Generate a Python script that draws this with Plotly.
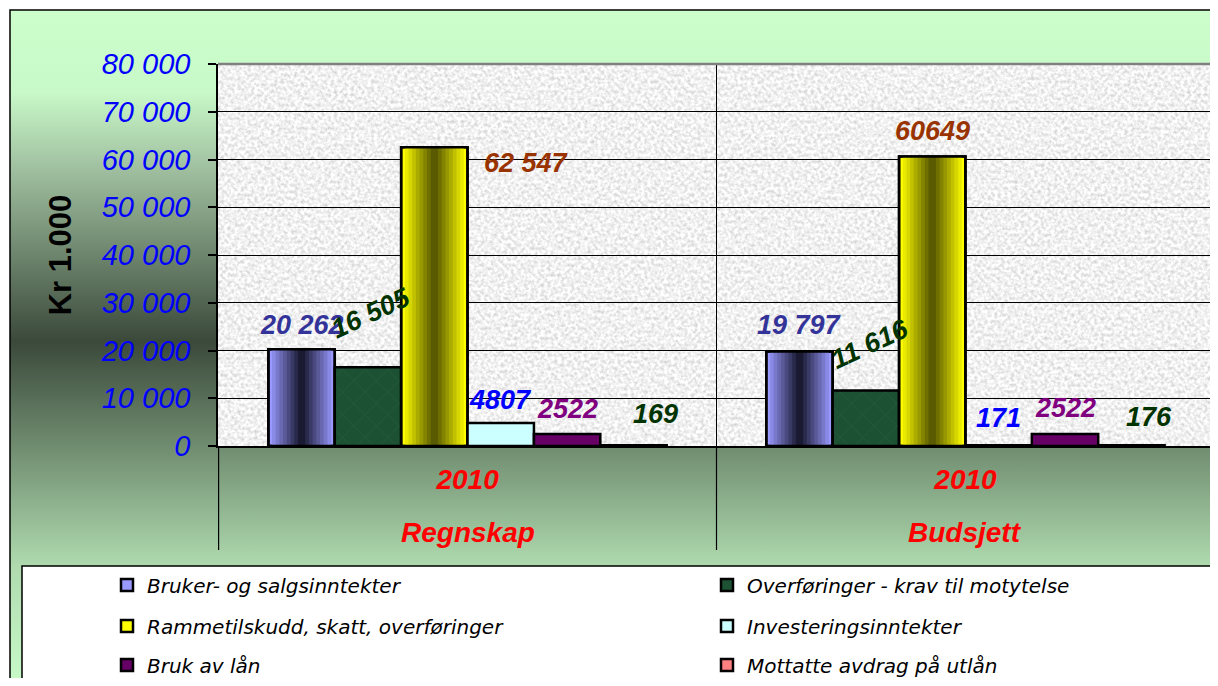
import base64

import plotly.graph_objects as go

GROUPS = ["Regnskap", "Budsjett"]
YEARS = ["2010", "2010"]

SERIES = [
    "Bruker- og salgsinntekter",
    "Overføringer - krav til motytelse",
    "Rammetilskudd, skatt, overføringer",
    "Investeringsinntekter",
    "Bruk av lån",
    "Mottatte avdrag på utlån",
]
REGNSKAP = [20262, 16505, 62547, 4807, 2522, 169]
BUDSJETT = [19797, 11616, 60649, 171, 2522, 176]
REGNSKAP_LABELS = ["20 262", "16 505", "62 547", "4807", "2522", "169"]
BUDSJETT_LABELS = ["19 797", "11 616", "60649", "171", "2522", "176"]

Y_TICKS = [0, 10000, 20000, 30000, 40000, 50000, 60000, 70000, 80000]
Y_TICK_TEXT = ["0", "10 000", "20 000", "30 000", "40 000", "50 000", "60 000", "70 000", "80 000"]

# styling
BAR_COLORS = ["#9999ff", "#1c5233", "#ffff00", "#ccffff", "#660066", "#ff8080"]
CENTER_COLORS = {0: "#1a1a33", 2: "#5a5a00"}
LABEL_COLORS = ["#333399", "#003300", "#993300", "#0000ff", "#800080", "#003300"]
# (xshift, yshift, angle) per group, per series
LABEL_STYLE = [
    [(0, 24, 0), (3, 54, -25), (92, -16, 0), (0, 23, 0), (0, 25, 0), (22, 31, 0)],
    [(0, 26, 0), (4, 47, -25), (0, 25, 0), (0, 27, 0), (0, 26, 0), (18, 28, 0)],
]
LEGEND_ROWS = [585, 626, 665]

# the page body has an 8px margin: shift the figure back by that much and
# size it so that the page does not overflow the window
OFF = 8
W, H = 1218 - OFF, 686 - 2 * OFF
PLOT_L, PLOT_R, PLOT_T, PLOT_B = 218, 1215, 64, 446
BARGAP = 0.2
SLOT = (1 - BARGAP) / len(SERIES)
STRIPS = 9

FONT = "Liberation Sans, Arial, sans-serif"
LEGEND_FONT = "DejaVu Sans, sans-serif"


def px_x(px):
    return (px - PLOT_L) / (PLOT_R - PLOT_L)


def px_y(py):
    return (PLOT_B - py) / (PLOT_B - PLOT_T)


def mix(c1, c2, t):
    a = [int(c1[i:i + 2], 16) for i in (1, 3, 5)]
    b = [int(c2[i:i + 2], 16) for i in (1, 3, 5)]
    return "#" + "".join(f"{round(x + (y - x) * t):02x}" for x, y in zip(a, b))


def svg_uri(svg):
    return "data:image/svg+xml;base64," + base64.b64encode(svg.encode()).decode()


BG_SVG = """<svg xmlns='http://www.w3.org/2000/svg' width='1220' height='690' preserveAspectRatio='none'>
<defs><linearGradient id='g' x1='0' y1='0' x2='0' y2='1'>
<stop offset='0' stop-color='#ccffcc'/>
<stop offset='0.12' stop-color='#c8f8c8'/>
<stop offset='0.235' stop-color='#9ebd9e'/>
<stop offset='0.35' stop-color='#6f876f'/>
<stop offset='0.48' stop-color='#3b493b'/>
<stop offset='0.63' stop-color='#6f8b6f'/>
<stop offset='0.81' stop-color='#b0dcb0'/>
<stop offset='1' stop-color='#ccffcc'/>
</linearGradient></defs>
<rect width='1220' height='690' fill='url(#g)'/>
</svg>"""

TEXTURE_SVG = """<svg xmlns='http://www.w3.org/2000/svg' width='997' height='382'>
<filter id='n' x='0' y='0' width='100%' height='100%' color-interpolation-filters='sRGB'>
<feTurbulence type='fractalNoise' baseFrequency='0.3' numOctaves='2' seed='7'/>
<feColorMatrix type='matrix' values='0.35 0 0 0 0.77  0.35 0 0 0 0.77  0.35 0 0 0 0.77  0 0 0 0 1'/>
</filter>
<rect width='997' height='382' filter='url(#n)'/>
</svg>"""

fig = go.Figure()

for i, name in enumerate(SERIES):
    values = [REGNSKAP[i], BUDSJETT[i]]
    legend = "legend" if i < 2 else f"legend{i // 2 + 1}"
    marker = {"color": BAR_COLORS[i], "line": {"color": "black", "width": 2.5}}
    if i == 1:
        marker["pattern"] = {"shape": "x", "fgcolor": "#2f6a48", "bgcolor": BAR_COLORS[i],
                             "size": 16, "solidity": 0.08}
    fig.add_trace(go.Bar(x=GROUPS, y=values, name=name, offsetgroup=str(i),
                         marker=marker, legend=legend))
    if i in CENTER_COLORS:
        for k in range(1, STRIPS):
            fig.add_trace(go.Bar(
                x=GROUPS, y=values, offsetgroup=str(i),
                width=SLOT * (1 - k / STRIPS),
                marker={"color": mix(BAR_COLORS[i], CENTER_COLORS[i], k / (STRIPS - 1)),
                        "line": {"width": 0}},
                showlegend=False, hoverinfo="skip",
            ))
        fig.add_trace(go.Bar(
            x=GROUPS, y=values, offsetgroup=str(i),
            marker={"color": "rgba(0,0,0,0)", "line": {"color": "black", "width": 2.5}},
            showlegend=False, hoverinfo="skip",
        ))

cat_font = dict(family=FONT, size=28, color="#ff0000", weight="bold", style="italic")
annotations = []
for g, (vals, labels) in enumerate([(REGNSKAP, REGNSKAP_LABELS), (BUDSJETT, BUDSJETT_LABELS)]):
    for i, (v, lab) in enumerate(zip(vals, labels)):
        dx, dy, ang = LABEL_STYLE[g][i]
        annotations.append(dict(
            x=g + (i - (len(SERIES) - 1) / 2) * SLOT, y=v, xref="x", yref="y",
            text=lab, showarrow=False, xshift=dx, yshift=dy, textangle=ang,
            font=dict(family=FONT, size=27, color=LABEL_COLORS[i], weight="bold", style="italic"),
        ))
    annotations.append(dict(
        x=GROUPS[g], y=px_y(532), xref="x", yref="paper", text=GROUPS[g],
        showarrow=False, yanchor="middle", font=cat_font,
    ))

legends = {}
for r, py in enumerate(LEGEND_ROWS):
    key = "legend" if r == 0 else f"legend{r + 1}"
    legends[key] = dict(
        orientation="h", x=px_x(107), xanchor="left", y=px_y(py), yanchor="middle",
        bgcolor="rgba(0,0,0,0)", borderwidth=0, entrywidth=555, entrywidthmode="pixels",
        itemwidth=30, font=dict(family=LEGEND_FONT, size=20, color="black", style="italic"),
    )

dividers = [
    dict(type="line", xref="x", yref="paper", x0=b - 0.5, x1=b - 0.5, y0=0, y1=px_y(550),
         line=dict(color="black", width=1.2))
    for b in range(len(GROUPS) + 1)
]

fig.update_layout(
    width=W, height=H,
    margin=dict(l=PLOT_L - OFF, r=W - (PLOT_R - OFF), t=PLOT_T - OFF, b=H - (PLOT_B - OFF),
                autoexpand=False),
    paper_bgcolor="white", plot_bgcolor="rgba(0,0,0,0)",
    barmode="group", bargap=BARGAP, bargroupgap=0,
    annotations=annotations,
    images=[
        dict(source=svg_uri(BG_SVG), xref="paper", yref="paper", x=px_x(10), y=px_y(10),
             sizex=px_x(1240) - px_x(10), sizey=px_y(10) - px_y(700),
             xanchor="left", yanchor="top", sizing="stretch", layer="below"),
        dict(source=svg_uri(TEXTURE_SVG), xref="paper", yref="paper", x=0, y=1,
             sizex=1, sizey=1, xanchor="left", yanchor="top", sizing="stretch", layer="below"),
    ],
    shapes=[
        dict(type="rect", xref="paper", yref="paper", x0=px_x(22), y0=px_y(566),
             x1=px_x(1250), y1=px_y(720), fillcolor="white",
             line=dict(color="black", width=1.5), layer="below"),
        dict(type="rect", xref="paper", yref="paper", x0=px_x(10), y0=px_y(10),
             x1=px_x(1250), y1=px_y(720), line=dict(color="black", width=1.5), layer="below"),
        dict(type="line", xref="paper", yref="paper", x0=0, y0=1, x1=1, y1=1,
             line=dict(color="#808080", width=2.5)),
        dict(type="line", xref="paper", yref="paper", x0=1, y0=0, x1=1, y1=1,
             line=dict(color="#808080", width=2.5)),
    ] + dividers,
    xaxis=dict(
        type="category", tickvals=GROUPS, ticktext=YEARS,
        tickson="boundaries", showgrid=True, gridcolor="black", gridwidth=1,
        showline=True, linecolor="black", linewidth=1.5, ticks="", ticklabelstandoff=8,
        tickfont=cat_font,
    ),
    yaxis=dict(
        range=[0, 80000], tickvals=Y_TICKS, ticktext=Y_TICK_TEXT,
        ticks="outside", ticklen=8, tickwidth=1.5, tickcolor="black", ticklabelstandoff=12,
        tickfont=dict(family=FONT, size=29, color="#0000ff", style="italic"),
        showline=True, linecolor="black", linewidth=1.5,
        showgrid=True, gridcolor="black", gridwidth=1.3, zeroline=False,
        title=dict(text="Kr 1.000", standoff=20,
                   font=dict(family=FONT, size=31, color="black", weight="bold")),
    ),
    showlegend=True,
    **legends,
)

fig.write_html("out.html")
